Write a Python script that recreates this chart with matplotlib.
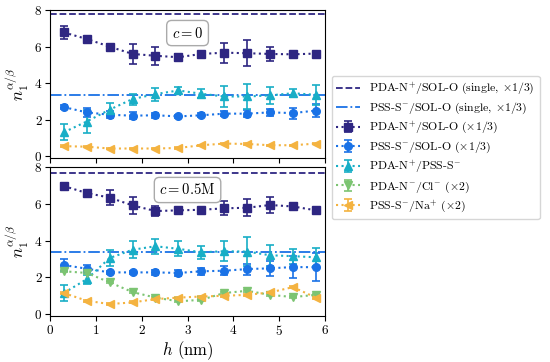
import matplotlib
matplotlib.use("Agg")
import matplotlib.pyplot as plt
import numpy as np

plt.rcParams['font.family'] = 'serif'
plt.rcParams['font.serif'] = ['cmr10', 'DejaVu Serif']
plt.rcParams['mathtext.fontset'] = 'cm'
plt.rcParams['axes.formatter.use_mathtext'] = True
plt.rcParams['axes.unicode_minus'] = False

h = [0.3, 0.8, 1.3, 1.8, 2.3, 2.8, 3.3, 3.8, 4.3, 4.8, 5.3, 5.8]

# c = 0
single_pda_0 = 7.8
single_pss_0 = 3.36
pda_sol_0 = [6.78, 6.42, 6.0, 5.6, 5.5, 5.42, 5.6, 5.67, 5.64, 5.6, 5.58, 5.62]
pda_sol_0_err = [0.37, 0.1, 0.15, 0.53, 0.5, 0.2, 0.1, 0.55, 0.7, 0.4, 0.1, 0.1]
pss_sol_0 = [2.69, 2.4, 2.27, 2.22, 2.24, 2.18, 2.24, 2.33, 2.33, 2.4, 2.36, 2.5]
pss_sol_0_err = [0.1, 0.25, 0.2, 0.2, 0.15, 0.1, 0.1, 0.15, 0.2, 0.2, 0.3, 0.35]
pda_pss_0 = [1.31, 1.9, 2.55, 3.13, 3.4, 3.6, 3.42, 3.27, 3.27, 3.33, 3.45, 3.36]
pda_pss_0_err = [0.45, 0.65, 0.35, 0.3, 0.35, 0.2, 0.25, 0.58, 0.7, 0.45, 0.22, 0.55]
pss_na_0 = [0.55, 0.52, 0.42, 0.42, 0.42, 0.45, 0.6, 0.69, 0.67, 0.6, 0.6, 0.69]
pss_na_0_err = [0.04] * 12

# c = 0.5M
single_pda_5 = 7.65
single_pss_5 = 3.38
pda_sol_5 = [6.96, 6.58, 6.33, 5.91, 5.6, 5.64, 5.67, 5.75, 5.78, 5.93, 5.85, 5.64]
pda_sol_5_err = [0.15, 0.1, 0.4, 0.48, 0.27, 0.1, 0.1, 0.37, 0.47, 0.43, 0.12, 0.1]
pss_sol_5 = [2.67, 2.47, 2.27, 2.27, 2.27, 2.24, 2.33, 2.36, 2.45, 2.49, 2.56, 2.55]
pss_sol_5_err = [0.35, 0.22, 0.1, 0.1, 0.12, 0.15, 0.2, 0.25, 0.3, 0.4, 0.6, 0.77]
pda_pss_5 = [1.15, 1.9, 3.05, 3.5, 3.69, 3.55, 3.36, 3.42, 3.4, 3.2, 3.15, 3.09]
pda_pss_5_err = [0.45, 0.25, 0.45, 0.45, 0.4, 0.4, 0.35, 0.55, 0.77, 0.58, 0.4, 0.5]
pda_cl_5 = [2.33, 2.24, 1.73, 1.2, 0.9, 0.7, 0.78, 1.15, 1.27, 1.05, 0.93, 1.05]
pda_cl_5_err = [0.05] * 12
pss_na_5 = [1.15, 0.73, 0.55, 0.64, 0.82, 0.9, 0.96, 1.0, 1.05, 1.18, 1.47, 0.9]
pss_na_5_err = [0.05] * 12

labels = [r"PDA-N$^{+}$/SOL-O (single, $\times1/3$)",
          r"PSS-S$^{-}$/SOL-O (single, $\times1/3$)",
          r"PDA-N$^{+}$/SOL-O ($\times1/3$)",
          r"PSS-S$^{-}$/SOL-O ($\times1/3$)",
          r"PDA-N$^{+}$/PSS-S$^{-}$",
          r"PDA-N$^{-}$/Cl$^{-}$ ($\times2$)",
          r"PSS-S$^{-}$/Na$^{+}$ ($\times2$)"]

c_navy = '#2e2682'
c_blue = '#1a72e6'
c_cyan = '#18aec6'
c_green = '#7cc472'
c_orange = '#f4b340'

fig = plt.figure(figsize=(5.5, 3.62), dpi=100)
ax1 = fig.add_axes([0.091, 0.5635, 0.5, 0.4085])
ax2 = fig.add_axes([0.091, 0.127, 0.5, 0.412])

def panel(ax, spda, spss, pda, pdae, pss, psse, pp, ppe, cl, cle, na, nae, text):
    ax.axhline(spda, color=c_navy, ls='--', lw=1.3, label=labels[0])
    ax.axhline(spss, color=c_blue, ls='-.', lw=1.3, label=labels[1])
    kw = dict(ls=':', lw=1.5, capsize=3, elinewidth=1.2, capthick=1.2, ms=5.5)
    ax.errorbar(h, pda, yerr=pdae, color=c_navy, marker='s', label=labels[2], **kw)
    ax.errorbar(h, pss, yerr=psse, color=c_blue, marker='o', label=labels[3], **kw)
    ax.errorbar(h, pp, yerr=ppe, color=c_cyan, marker='^', label=labels[4], **kw)
    if cl is not None:
        ax.errorbar(h, cl, yerr=cle, color=c_green, marker='v', label=labels[5], **kw)
    else:
        ax.errorbar([], [], yerr=[], color=c_green, marker='v', label=labels[5], **kw)
    ax.errorbar(h, na, yerr=nae, color=c_orange, marker='<', label=labels[6], **kw)
    ax.set_xlim(0, 6)
    ax.set_ylim(-0.1, 8)
    ax.set_yticks([0, 2, 4, 6, 8])
    ax.set_xticks([0, 1, 2, 3, 4, 5, 6])
    ax.set_ylabel(r"$n_1^{\alpha/\beta}$", fontsize=12, labelpad=2)
    ax.text(0.5, 0.845, text, transform=ax.transAxes, ha='center', va='center', fontsize=10.5,
            bbox=dict(boxstyle='round,pad=0.35', fc='white', ec='#aaaaaa', lw=1.0))
    ax.tick_params(labelsize=9.5, pad=2)

panel(ax1, single_pda_0, single_pss_0, pda_sol_0, pda_sol_0_err, pss_sol_0, pss_sol_0_err,
      pda_pss_0, pda_pss_0_err, None, None, pss_na_0, pss_na_0_err, r"$c = 0$")
panel(ax2, single_pda_5, single_pss_5, pda_sol_5, pda_sol_5_err, pss_sol_5, pss_sol_5_err,
      pda_pss_5, pda_pss_5_err, pda_cl_5, pda_cl_5_err, pss_na_5, pss_na_5_err, r"$c = 0.5\mathrm{M}$")
ax1.tick_params(labelbottom=False)
ax2.set_xlabel(r"$h$ (nm)", fontsize=12, labelpad=1)

handles, labs = ax2.get_legend_handles_labels()
fig.legend(handles, labs, loc='upper left', bbox_to_anchor=(0.603, 0.79), fontsize=8.5,
           frameon=True, fancybox=True, edgecolor='#cccccc', handlelength=2.0,
           labelspacing=0.3, borderaxespad=0.0, handletextpad=0.8)

fig.savefig("out.png", dpi=100)
